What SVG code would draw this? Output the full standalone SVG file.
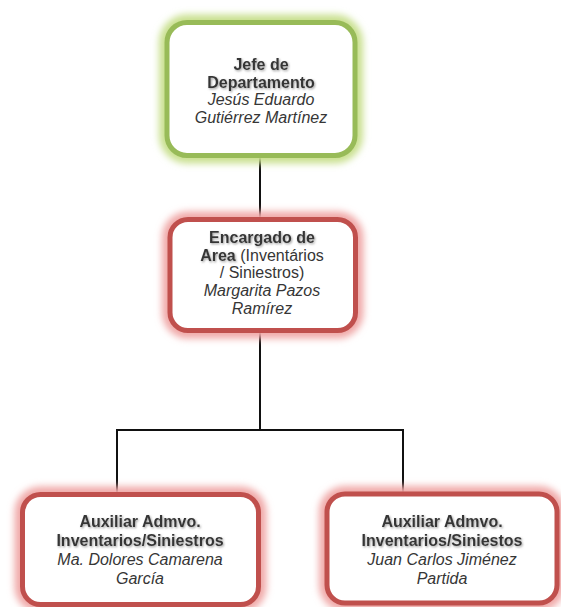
<svg xmlns="http://www.w3.org/2000/svg" width="561" height="607" viewBox="0 0 561 607">
  <defs>
    <filter id="glow" x="-20%" y="-20%" width="140%" height="140%">
      <feGaussianBlur stdDeviation="3.5"/>
    </filter>
    <filter id="tshadow" x="-10%" y="-30%" width="120%" height="160%">
      <feDropShadow dx="1" dy="1.2" stdDeviation="0.8" flood-color="#8c8c8c" flood-opacity="0.85"/>
    </filter>
  </defs>
  <style>
    .bg { fill: #ffffff; }
    .glow-g { fill: none; stroke: #c9e08f; stroke-width: 16; filter: url(#glow); }
    .glow-r { fill: none; stroke: #f0a9a8; stroke-width: 16; filter: url(#glow); }
    .box-g { fill: #ffffff; stroke: #98bb58; stroke-width: 5; }
    .box-r { fill: #ffffff; stroke: #c0504d; stroke-width: 5; }
    .link { fill: none; stroke: #111111; stroke-width: 2; }
    text { font-family: "Liberation Sans", Arial, sans-serif; font-size: 16px; fill: #363636; text-anchor: middle; }
    .b { font-weight: bold; filter: url(#tshadow); }
    .i { font-style: italic; }
  </style>

  <rect class="bg" x="0" y="0" width="561" height="607"/>

  <!-- connectors -->
  <g id="connectors">
    <line class="link" x1="260" y1="156" x2="260" y2="219"/>
    <line class="link" x1="260" y1="331" x2="260" y2="430"/>
    <polyline class="link" points="117,494 117,430 403,430 403,494"/>
  </g>

  <!-- head of department -->
  <g id="jefe">
    <rect class="glow-g" x="167" y="22.5" width="188" height="133" rx="20"/>
    <rect class="box-g" x="167" y="22.5" width="188" height="133" rx="20"/>
    <text x="261" y="70" class="b">Jefe de</text>
    <text x="261" y="87.5" class="b">Departamento</text>
    <text x="261" y="105" class="i">Jesús Eduardo</text>
    <text x="261" y="122.5" class="i">Gutiérrez Martínez</text>
  </g>

  <!-- area manager -->
  <g id="encargado">
    <rect class="glow-r" x="170" y="219.5" width="185.5" height="111" rx="18"/>
    <rect class="box-r" x="170" y="219.5" width="185.5" height="111" rx="18"/>
    <text x="262" y="243" class="b">Encargado de</text>
    <text x="262" y="261"><tspan class="b">Area</tspan> (Inventários</text>
    <text x="262" y="278">/ Siniestros)</text>
    <text x="262" y="296" class="i">Margarita Pazos</text>
    <text x="262" y="314" class="i">Ramírez</text>
  </g>

  <!-- assistant, left -->
  <g id="auxiliar-1">
    <rect class="glow-r" x="22.5" y="494.5" width="236" height="110" rx="18"/>
    <rect class="box-r" x="22.5" y="494.5" width="236" height="110" rx="18"/>
    <text x="140" y="527" class="b">Auxiliar Admvo.</text>
    <text x="140" y="546" class="b">Inventarios/Siniestros</text>
    <text x="140" y="565" class="i">Ma. Dolores Camarena</text>
    <text x="140" y="584" class="i">García</text>
  </g>

  <!-- assistant, right -->
  <g id="auxiliar-2">
    <rect class="glow-r" x="327" y="494" width="230" height="109" rx="18"/>
    <rect class="box-r" x="327" y="494" width="230" height="109" rx="18"/>
    <text x="442" y="527" class="b">Auxiliar Admvo.</text>
    <text x="442" y="546" class="b">Inventarios/Siniestos</text>
    <text x="442" y="565" class="i">Juan Carlos Jiménez</text>
    <text x="442" y="584" class="i">Partida</text>
  </g>
</svg>
